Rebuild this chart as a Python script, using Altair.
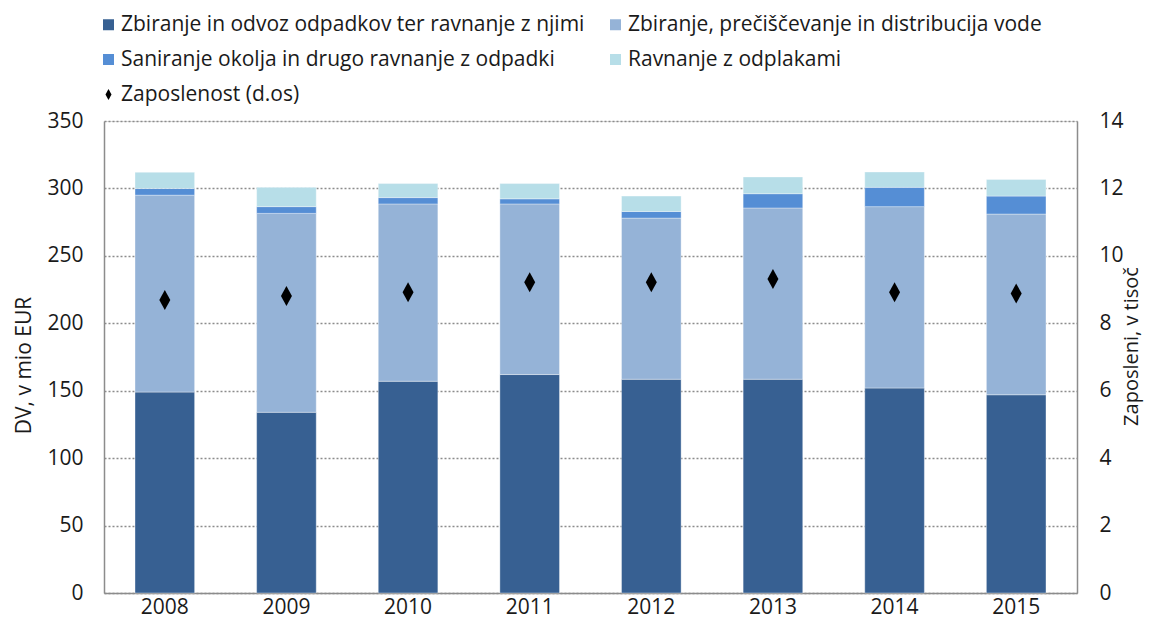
import altair as alt
import pandas as pd

years = ["2008", "2009", "2010", "2011", "2012", "2013", "2014", "2015"]
series = [
    "Zbiranje in odvoz odpadkov ter ravnanje z njimi",
    "Zbiranje, prečiščevanje in distribucija vode",
    "Saniranje okolja in drugo ravnanje z odpadki",
    "Ravnanje z odplakami",
]
emp_label = "Zaposlenost (d.os)"
waste = [149, 134, 157, 162, 158.5, 158.5, 152, 147]
water = [146, 147.5, 131.5, 126.5, 119.5, 127, 134.5, 134]
remediation = [5, 5, 4.7, 3.8, 4.9, 10.6, 14.3, 13.3]
sewage = [12, 14.3, 10.4, 11.3, 11.4, 12.4, 11.4, 12.4]
employment = [8.69, 8.81, 8.92, 9.22, 9.22, 9.31, 8.92, 8.88]

colors = ["#376092", "#95B3D7", "#558ED5", "#B7DEE8", "#000000"]
diamond = "M0,-1L0.55,0L0,1L-0.55,0Z"
shapes = ["square", "square", "square", "square", diamond]

rows = []
for i, y in enumerate(years):
    for k, vals in enumerate([waste, water, remediation, sewage]):
        rows.append({"year": y, "series": series[k], "value": vals[i], "order": k})
bars_df = pd.DataFrame(rows)
emp_df = pd.DataFrame({"year": years, "emp": employment, "series": [emp_label] * len(years)})

FONT = "Open Sans"
domain = series + [emp_label]

legend = alt.Legend(
    title=None, orient="none", legendX=-6, legendY=-107, columns=2, direction="horizontal",
    labelLimit=700, labelFontSize=21, labelFont=FONT, labelColor="#1a1a1a",
    symbolSize=121, symbolStrokeWidth=0, rowPadding=13, columnPadding=20,
    labelOffset=2, padding=0,
)

color = alt.Color("series:N", scale=alt.Scale(domain=domain, range=colors), legend=legend)
shape = alt.Shape("series:N", scale=alt.Scale(domain=domain, range=shapes), legend=legend)

x = alt.X(
    "year:N",
    scale=alt.Scale(paddingInner=0.51, paddingOuter=0.255),
    axis=alt.Axis(title=None, labelAngle=0, ticks=False, tickSize=0, domainColor="#8c8c8c",
                  domainWidth=1.5, labelPadding=3, labelFontSize=21, labelFont=FONT,
                  labelColor="#1a1a1a"),
)

bars = alt.Chart(bars_df).mark_bar(stroke="#ffffff", strokeWidth=0.6, strokeOpacity=0.6).encode(
    x=x,
    y=alt.Y(
        "value:Q", stack="zero",
        scale=alt.Scale(domain=[0, 350], nice=False),
        axis=alt.Axis(
            title="DV, v mio EUR", values=list(range(0, 351, 50)), grid=True,
            gridDash=[2, 2], gridColor="#8c8c8c", gridWidth=1.5, domainColor="#8c8c8c",
            domainWidth=1.5, ticks=False, tickSize=0, labelPadding=21, labelFontSize=21,
            labelFont=FONT, labelColor="#1a1a1a", titleFont=FONT, titleFontSize=21,
            titleFontWeight="normal", titleColor="#1a1a1a", titlePadding=12, titleY=244,
        ),
    ),
    color=color,
    order=alt.Order("order:Q"),
)

points = alt.Chart(emp_df).mark_point(filled=True, size=400, opacity=1).encode(
    x=x,
    y=alt.Y(
        "emp:Q",
        scale=alt.Scale(domain=[0, 14], nice=False),
        axis=alt.Axis(
            title="Zaposleni, v tisoč", orient="right", values=list(range(0, 15, 2)),
            grid=False, domainColor="#8c8c8c", domainWidth=1.5, ticks=False, tickSize=0,
            labelPadding=22, labelFontSize=21, labelFont=FONT, labelColor="#1a1a1a",
            titleFont=FONT, titleFontSize=20, titleFontWeight="normal", titleColor="#1a1a1a",
            titleAngle=270, titleBaseline="top", titlePadding=-2, titleY=225,
        ),
    ),
    color=color,
    shape=shape,
)

chart = (
    alt.layer(bars, points)
    .resolve_scale(y="independent")
    .properties(
        width=973, height=472,
        autosize=alt.AutoSizeParams(type="none"),
        padding={"left": 96, "top": 113, "right": 72, "bottom": 32},
    )
    .configure_view(stroke=None)
    .configure(font=FONT)
)

chart.save("out.html", embed_options={"renderer": "svg", "actions": False})
